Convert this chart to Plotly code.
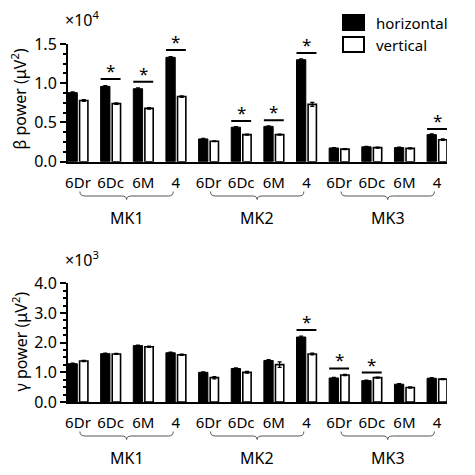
import plotly.graph_objects as go

# ---------------- data ----------------
regions = ["6Dr", "6Dc", "6M", "4"]
monkeys = ["MK1", "MK2", "MK3"]
tick_labels = regions * 3
group_pos = list(range(12))

beta_h = [0.88, 0.96, 0.93, 1.33, 0.29, 0.44, 0.45, 1.30, 0.175, 0.19, 0.18, 0.345]
beta_v = [0.78, 0.74, 0.68, 0.83, 0.26, 0.345, 0.345, 0.73, 0.16, 0.18, 0.17, 0.28]
beta_h_err = [0.01, 0.01, 0.01, 0.01, 0.006, 0.008, 0.008, 0.01, 0.006, 0.006, 0.006, 0.01]
beta_v_err = [0.01, 0.01, 0.01, 0.01, 0.006, 0.008, 0.008, 0.025, 0.006, 0.006, 0.006, 0.01]

gamma_h = [1.29, 1.63, 1.90, 1.66, 1.00, 1.13, 1.40, 2.19, 0.81, 0.72, 0.60, 0.80]
gamma_v = [1.38, 1.62, 1.86, 1.59, 0.82, 1.00, 1.26, 1.62, 0.91, 0.82, 0.49, 0.77]
gamma_h_err = [0.02, 0.02, 0.02, 0.02, 0.02, 0.02, 0.03, 0.03, 0.02, 0.02, 0.02, 0.02]
gamma_v_err = [0.02, 0.02, 0.02, 0.02, 0.04, 0.03, 0.09, 0.03, 0.02, 0.02, 0.02, 0.02]

# significance bars: (group index, height)
beta_sig = [(1, 1.053), (2, 1.019), (3, 1.423), (5, 0.518), (6, 0.527), (7, 1.385), (11, 0.417)]
gamma_sig = [(7, 2.43), (8, 1.13), (9, 0.99)]

# ---------------- style ----------------
FONT = "Noto Sans"
W = H = 475
XD = [68 / W, 447 / W]
TOP_D = [1 - 161.7 / H, 1 - 44 / H]
BOT_D = [1 - 402 / H, 1 - 283.3 / H]
HALF = 0.305
BW_H = 0.285
BW_V = 0.255

fig = go.Figure()


def add_pair(h, v, eh, ev, xa, ya):
    fig.add_trace(go.Bar(
        x=group_pos, y=h, width=BW_H, offset=-HALF, name="horizontal",
        marker=dict(color="black", line=dict(color="black", width=1)),
        error_y=dict(type="data", array=eh, color="black", thickness=1.2, width=2),
        xaxis=xa, yaxis=ya, showlegend=False))
    fig.add_trace(go.Bar(
        x=group_pos, y=v, width=BW_V, offset=HALF - BW_V, name="vertical",
        marker=dict(color="white", line=dict(color="black", width=1.6)),
        error_y=dict(type="data", array=ev, color="black", thickness=1.2, width=2),
        xaxis=xa, yaxis=ya, showlegend=False))


add_pair(beta_h, beta_v, beta_h_err, beta_v_err, "x", "y")
add_pair(gamma_h, gamma_v, gamma_h_err, gamma_v_err, "x2", "y2")

shapes = []
annotations = []


def txt(text, x, y, xref="paper", yref="paper", xanchor="center", yanchor="middle",
        size=15, **kw):
    return dict(text=text, x=x, y=y, xref=xref, yref=yref, xanchor=xanchor,
                yanchor=yanchor, showarrow=False,
                font=dict(family=FONT, size=size, color="black"), **kw)


# significance lines and stars
for sig, xr, yr in [(beta_sig, "x", "y"), (gamma_sig, "x2", "y2")]:
    for g, yv in sig:
        shapes.append(dict(type="line", xref=xr, yref=yr, x0=g - HALF, x1=g + HALF,
                           y0=yv, y1=yv, line=dict(color="black", width=2)))
        annotations.append(txt("*", g, yv, xref=xr, yref=yr, yanchor="bottom",
                               size=17, yshift=-5))


# braces under each monkey group
def brace(x0, x1, ytop, yline, ybot, r=0.15):
    xc = (x0 + x1) / 2
    return (f"M {x0},{ytop} Q {x0},{yline} {x0 + r},{yline} L {xc - r},{yline} "
            f"Q {xc},{yline} {xc},{ybot} Q {xc},{yline} {xc + r},{yline} "
            f"L {x1 - r},{yline} Q {x1},{yline} {x1},{ytop}")


for xr, yt, yl, yb, ylab in [("x", 191.5, 196, 199.5, 218), ("x2", 431.5, 436, 439.5, 458)]:
    for m, name in enumerate(monkeys):
        a = group_pos[4 * m] + 0.06
        b = group_pos[4 * m + 3] - 0.08
        shapes.append(dict(type="path", xref=xr, yref="paper",
                           path=brace(a, b, 1 - yt / H, 1 - yl / H, 1 - yb / H),
                           line=dict(color="#555555", width=1)))
        annotations.append(txt(name, (a + b) / 2, 1 - ylab / H, xref=xr, size=16))

# multipliers and axis titles
annotations += [
    txt("×10<sup>4</sup>", 63 / W, 1 - 19 / H, xanchor="left", size=16),
    txt("×10<sup>3</sup>", 63 / W, 1 - 259 / H, xanchor="left", size=16),
    txt("β power (μV<sup>2</sup>)", 20 / W, 1 - 99.5 / H, textangle=-90, size=16),
    txt("γ power (μV<sup>2</sup>)", 20 / W, 1 - 341.5 / H, textangle=-90, size=16),
]

# custom legend
shapes += [
    dict(type="rect", xref="paper", yref="paper", x0=343 / W, x1=364 / W,
         y0=1 - 30 / H, y1=1 - 15 / H, fillcolor="black", line=dict(color="black", width=2)),
    dict(type="rect", xref="paper", yref="paper", x0=343 / W, x1=364 / W,
         y0=1 - 52 / H, y1=1 - 37 / H, fillcolor="white", line=dict(color="black", width=2)),
]
annotations += [
    txt("horizontal", 374 / W, 1 - 22.5 / H, xanchor="left"),
    txt("vertical", 374 / W, 1 - 44.5 / H, xanchor="left"),
]

xaxis_common = dict(
    domain=XD, range=[-HALF, 11 + HALF], tickvals=group_pos, ticktext=tick_labels,
    showline=True, linecolor="black", linewidth=2, ticks="outside", ticklen=6,
    tickcolor="rgba(0,0,0,0)", showgrid=False, zeroline=False, automargin=False,
    tickfont=dict(family=FONT, size=15, color="black"),
)
yaxis_common = dict(
    showline=True, linecolor="black", linewidth=2, ticks="outside", ticklen=6,
    tickwidth=2, tickcolor="black", showgrid=False, zeroline=False, tickformat=".1f",
    automargin=False, tickfont=dict(family=FONT, size=16, color="black"),
)

fig.update_layout(
    width=W, height=H, margin=dict(l=0, r=0, t=0, b=0, autoexpand=False),
    paper_bgcolor="white", plot_bgcolor="white", barmode="overlay",
    font=dict(family=FONT, color="black"),
    xaxis=dict(**xaxis_common, anchor="y"),
    yaxis=dict(**yaxis_common, domain=TOP_D, range=[0, 1.5], dtick=0.5, anchor="x",
               minor=dict(dtick=0.125, ticks="outside", ticklen=3, tickwidth=1.5, tickcolor="black")),
    xaxis2=dict(**xaxis_common, anchor="y2"),
    yaxis2=dict(**yaxis_common, domain=BOT_D, range=[0, 4], dtick=1, anchor="x2",
                minor=dict(dtick=0.25, ticks="outside", ticklen=3, tickwidth=1.5, tickcolor="black")),
    shapes=shapes, annotations=annotations,
)

fig.write_html(
    "out.html",
    config={"displayModeBar": False},
    post_script="document.body.style.margin='0';document.body.style.padding='0';"
                "document.body.style.overflow='hidden';",
)
